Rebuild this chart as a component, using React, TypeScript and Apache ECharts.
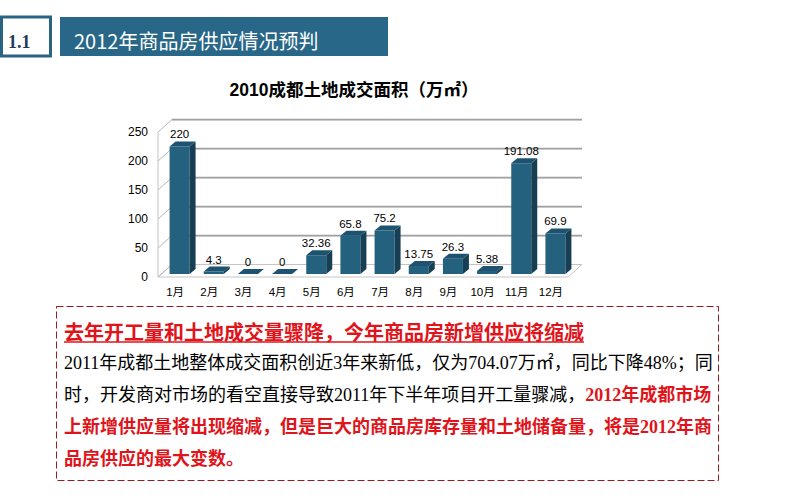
import React, { useEffect, useRef } from "react";
import * as echarts from "echarts";

const months = ["1月", "2月", "3月", "4月", "5月", "6月", "7月", "8月", "9月", "10月", "11月", "12月"];
const areaValues = [220, 4.3, 0, 0, 32.36, 65.8, 75.2, 13.75, 26.3, 5.38, 191.08, 69.9];
const areaLabels = ["220", "4.3", "0", "0", "32.36", "65.8", "75.2", "13.75", "26.3", "5.38", "191.08", "69.9"];
const yTicks = [0, 50, 100, 150, 200, 250];

const headerNo = "1.1";
const headerTitle = "2012年商品房供应情况预判";
const chartTitle = "2010成都土地成交面积（万㎡）";
const heading = "去年开工量和土地成交量骤降，今年商品房新增供应将缩减";
const line1 = "2011年成都土地整体成交面积创近3年来新低，仅为704.07万㎡，同比下降48%；同";
const line2a = "时，开发商对市场的看空直接导致2011年下半年项目开工量骤减，";
const line2b = "2012年成都市场";
const line3 = "上新增供应量将出现缩减，但是巨大的商品房库存量和土地储备量，将是2012年商";
const line4 = "品房供应的最大变数。";

const DX = 14;
const DY = -12.5;
const SX = 4.5;
const SY = -3;
const BW = 20;
const BDX = 6;
const BDY = -5;

const serif = '"Liberation Serif", "Noto Sans CJK SC", serif';
const sans = '"Liberation Sans", "Noto Sans CJK SC", sans-serif';
const RED = "#e0141b";

export default function App() {
  const ref = useRef<HTMLDivElement>(null);
  useEffect(() => {
    if (!ref.current) return;
    const chart = echarts.init(ref.current, null, { renderer: "svg" });
    const option: any = {
      animation: false,
      backgroundColor: "#ffffff",
      grid: { left: 158, right: 232, top: 132, bottom: 223 },
      xAxis: {
        type: "category",
        data: months,
        axisLine: { show: false },
        axisTick: { show: false },
        axisLabel: { margin: 9, fontSize: 11.5, color: "#000", fontFamily: sans },
      },
      yAxis: {
        type: "value",
        min: 0,
        max: 250,
        interval: 50,
        axisLine: { show: false },
        axisTick: { show: false },
        splitLine: { show: false },
        axisLabel: { margin: 10, fontSize: 12, color: "#000", fontFamily: sans },
      },
      series: [
        {
          type: "custom",
          silent: true,
          clip: false,
          z: 1,
          data: yTicks.map((t) => [0, t]),
          renderItem: (params: any, api: any) => {
            const cs = params.coordSys;
            const L = cs.x;
            const R = cs.x + cs.width;
            const v = api.value(1);
            const y = api.coord([0, v])[1];
            const children: any[] = [];
            if (v === 0) {
              const yTop = api.coord([0, 250])[1];
              children.push({
                type: "polygon",
                shape: { points: [[L, y], [R, y], [R + DX, y + DY], [L + DX, y + DY]] },
                style: { fill: "#ffffff", stroke: "#c4c4c4", lineWidth: 1 },
              });
              children.push({
                type: "line",
                shape: { x1: L, y1: y, x2: L, y2: yTop },
                style: { stroke: "#c4c4c4", lineWidth: 1 },
              });
            } else {
              children.push({
                type: "line",
                shape: { x1: L + DX, y1: y + DY + 1, x2: R + DX, y2: y + DY + 1 },
                style: { stroke: "#d8d8d8", lineWidth: 1 },
              });
              children.push({
                type: "line",
                shape: { x1: L + DX, y1: y + DY, x2: R + DX, y2: y + DY },
                style: { stroke: "#a0a0a0", lineWidth: 1.4 },
              });
            }
            children.push({
              type: "line",
              shape: { x1: L, y1: y, x2: L + DX, y2: y + DY },
              style: { stroke: "#b8b8b8", lineWidth: 1 },
            });
            return { type: "group", children };
          },
        },
        {
          type: "custom",
          clip: false,
          z: 2,
          data: areaValues.map((v, i) => [i, v]),
          renderItem: (params: any, api: any) => {
            const i = api.value(0);
            const c = api.coord([i, api.value(1)]);
            const b = api.coord([i, 0]);
            const cx = c[0] + SX;
            const top = c[1] + SY;
            const bot = b[1] + SY;
            const x0 = cx - BW / 2;
            const x1 = x0 + BW;
            return {
              type: "group",
              children: [
                {
                  type: "rect",
                  shape: { x: x0, y: top, width: BW, height: bot - top },
                  style: { fill: "#24617f" },
                },
                {
                  type: "polygon",
                  shape: { points: [[x1, top], [x1 + BDX, top + BDY], [x1 + BDX, bot + BDY], [x1, bot]] },
                  style: { fill: "#173f54" },
                },
                {
                  type: "polygon",
                  shape: { points: [[x0, top], [x0 + BDX, top + BDY], [x1 + BDX, top + BDY], [x1, top]] },
                  style: { fill: "#1d5270" },
                },
                {
                  type: "text",
                  style: {
                    text: areaLabels[params.dataIndex],
                    x: cx,
                    y: top - 12,
                    align: "center",
                    verticalAlign: "middle",
                    fill: "#000",
                    font: '11.5px "Liberation Sans", sans-serif',
                  },
                },
              ],
            };
          },
        },
      ],
      graphic: [
        {
          type: "rect",
          shape: { x: 1.5, y: 17, width: 49, height: 39 },
          style: { fill: "#ffffff", stroke: "#2b6483", lineWidth: 3 },
        },
        {
          type: "text",
          style: {
            text: headerNo,
            x: 8,
            y: 42,
            verticalAlign: "middle",
            fill: "#1f3b5c",
            font: 'bold 18px "Liberation Serif", serif',
          },
        },
        {
          type: "rect",
          shape: { x: 60, y: 17, width: 328, height: 39 },
          style: { fill: "#286787" },
        },
        {
          type: "text",
          style: {
            text: headerTitle,
            x: 74,
            y: 40,
            verticalAlign: "middle",
            fill: "#ffffff",
            font: '20px "Noto Sans CJK SC", sans-serif',
          },
        },
        {
          type: "text",
          style: {
            text: chartTitle,
            x: 354,
            y: 90,
            align: "center",
            verticalAlign: "middle",
            fill: "#000",
            font: 'bold 17.5px "Liberation Sans", "Noto Sans CJK SC", sans-serif',
          },
        },
        {
          type: "rect",
          shape: { x: 56.5, y: 306.5, width: 662, height: 174 },
          style: { fill: "none", stroke: "#9b1b1f", lineWidth: 1, lineDash: [7, 3] },
        },
        {
          type: "text",
          style: {
            text: heading,
            x: 64,
            y: 331,
            verticalAlign: "middle",
            fill: RED,
            font: 'bold 20px "Noto Sans CJK SC", sans-serif',
          },
        },
        {
          type: "line",
          shape: { x1: 64, y1: 342, x2: 584, y2: 342 },
          style: { stroke: RED, lineWidth: 1.5 },
        },
        {
          type: "text",
          style: {
            text: line1,
            x: 64,
            y: 363,
            verticalAlign: "middle",
            fill: "#000",
            font: "18px " + serif,
          },
        },
        {
          type: "text",
          style: {
            text: "{a|" + line2a + "}{b|" + line2b + "}",
            x: 64,
            y: 395,
            verticalAlign: "middle",
            rich: {
              a: { fill: "#000", fontSize: 18, fontFamily: serif },
              b: { fill: RED, fontSize: 18, fontFamily: serif, fontWeight: "bold" },
            },
          },
        },
        {
          type: "text",
          style: {
            text: line3,
            x: 64,
            y: 427,
            verticalAlign: "middle",
            fill: RED,
            font: "bold 18px " + serif,
          },
        },
        {
          type: "text",
          style: {
            text: line4,
            x: 64,
            y: 459,
            verticalAlign: "middle",
            fill: RED,
            font: "bold 18px " + serif,
          },
        },
      ],
    };
    chart.setOption(option);
    return () => chart.dispose();
  }, []);
  return (
    <div
      ref={ref}
      style={{ position: "absolute", left: 0, top: 0, width: 800, height: 500 }}
    />
  );
}
